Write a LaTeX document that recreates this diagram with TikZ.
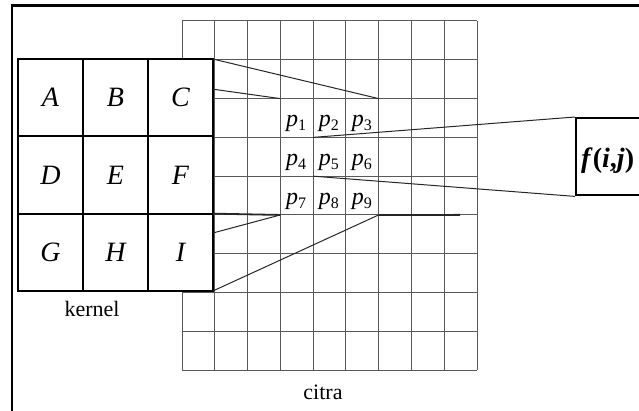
\documentclass[tikz,border=0pt]{standalone}
\usepackage{fontspec}
\setmainfont{Liberation Serif}
\usetikzlibrary{positioning,calc}

\begin{document}
\begin{tikzpicture}[x=0.5pt,y=-0.5pt,
   kcell/.style={draw,line width=1pt,fill=white,minimum width=32.5pt,
                 minimum height=38.65pt,inner sep=0pt,outer sep=0pt,
                 font=\fontsize{14}{16}\selectfont\itshape},
   pcell/.style={minimum width=16.39pt,minimum height=19.39pt,inner sep=0pt,
                 outer sep=0pt,text height=9.5pt,text depth=0.5pt,
                 font=\fontsize{12}{14}\selectfont},
   fbox/.style={draw,line width=1.2pt,text width=40pt,align=left,inner sep=2.5pt,
                minimum height=38.5pt,text height=14pt,text depth=3pt,
                font=\fontsize{14}{16}\selectfont\bfseries},
   lbl/.style={font=\fontsize{11}{13}\selectfont},
   gline/.style={black!65,line width=0.5pt},
   link/.style={black!85,line width=0.5pt}]
  \useasboundingbox (0,0) rectangle (639,411);
  % frame of the figure
  \draw[line width=1.1pt] (12,411) -- (12,5.5) -- (639,5.5);
  % citra
  \foreach \i in {0,...,9} {
    \draw[gline] (182+\i*32.78,21) -- (182+\i*32.78,370);
    \draw[gline] (182,21+\i*38.78) -- (477,21+\i*38.78);
  }
  \node[lbl] (citra) at (323,392) {citra};
  % kernel
  \node[kcell] (kA) at (50.5,97.7) {A};
  \node[kcell,right=0pt of kA] (kB) {B};
  \node[kcell,right=0pt of kB] (kC) {C};
  \node[kcell,below=0pt of kA] (kD) {D};
  \node[kcell,right=0pt of kD] (kE) {E};
  \node[kcell,right=0pt of kE] (kF) {F};
  \node[kcell,below=0pt of kD] (kG) {G};
  \node[kcell,right=0pt of kG] (kH) {H};
  \node[kcell,right=0pt of kH] (kI) {I};
  \node[lbl] (kernel) at (92,309) {kernel};
  % neighbourhood p1..p9
  \node[pcell] (p1) at (296.7,118) {\textit{p}\textsubscript{1}};
  \node[pcell,right=0pt of p1] (p2) {\textit{p}\textsubscript{2}};
  \node[pcell,right=0pt of p2] (p3) {\textit{p}\textsubscript{3}};
  \node[pcell,below=0pt of p1] (p4) {\textit{p}\textsubscript{4}};
  \node[pcell,right=0pt of p4] (p5) {\textit{p}\textsubscript{5}};
  \node[pcell,right=0pt of p5] (p6) {\textit{p}\textsubscript{6}};
  \node[pcell,below=0pt of p4] (p7) {\textit{p}\textsubscript{7}};
  \node[pcell,right=0pt of p7] (p8) {\textit{p}\textsubscript{8}};
  \node[pcell,right=0pt of p8] (p9) {\textit{p}\textsubscript{9}};
  \node[fbox,anchor=north west] (fij) at (575,117) {\textit{f}(\textit{i},\textit{j})};
  \coordinate (rowend) at (460,214.9);
  % projection lines
  \draw[link] (kC.north east) -- (p3.north east);
  \draw[link] ($(kC.north east)!0.39!(kC.south east)$) -- (p1.north west);
  \draw[link] ($(kI.north east)!0.25!(kI.south east)$) -- (p7.south west);
  \draw[link] (kI.south east) -- (p9.south east);
  \draw[link,line width=0.9pt] (kF.south east) -- (p7.south west);
  \draw[link,line width=0.9pt] (p9.south east) -- (rowend);
  \draw[link] (p5.north west) -- (fij.north west);
  \draw[link] (p5.south west) -- (fij.south west);
\end{tikzpicture}
\end{document}
